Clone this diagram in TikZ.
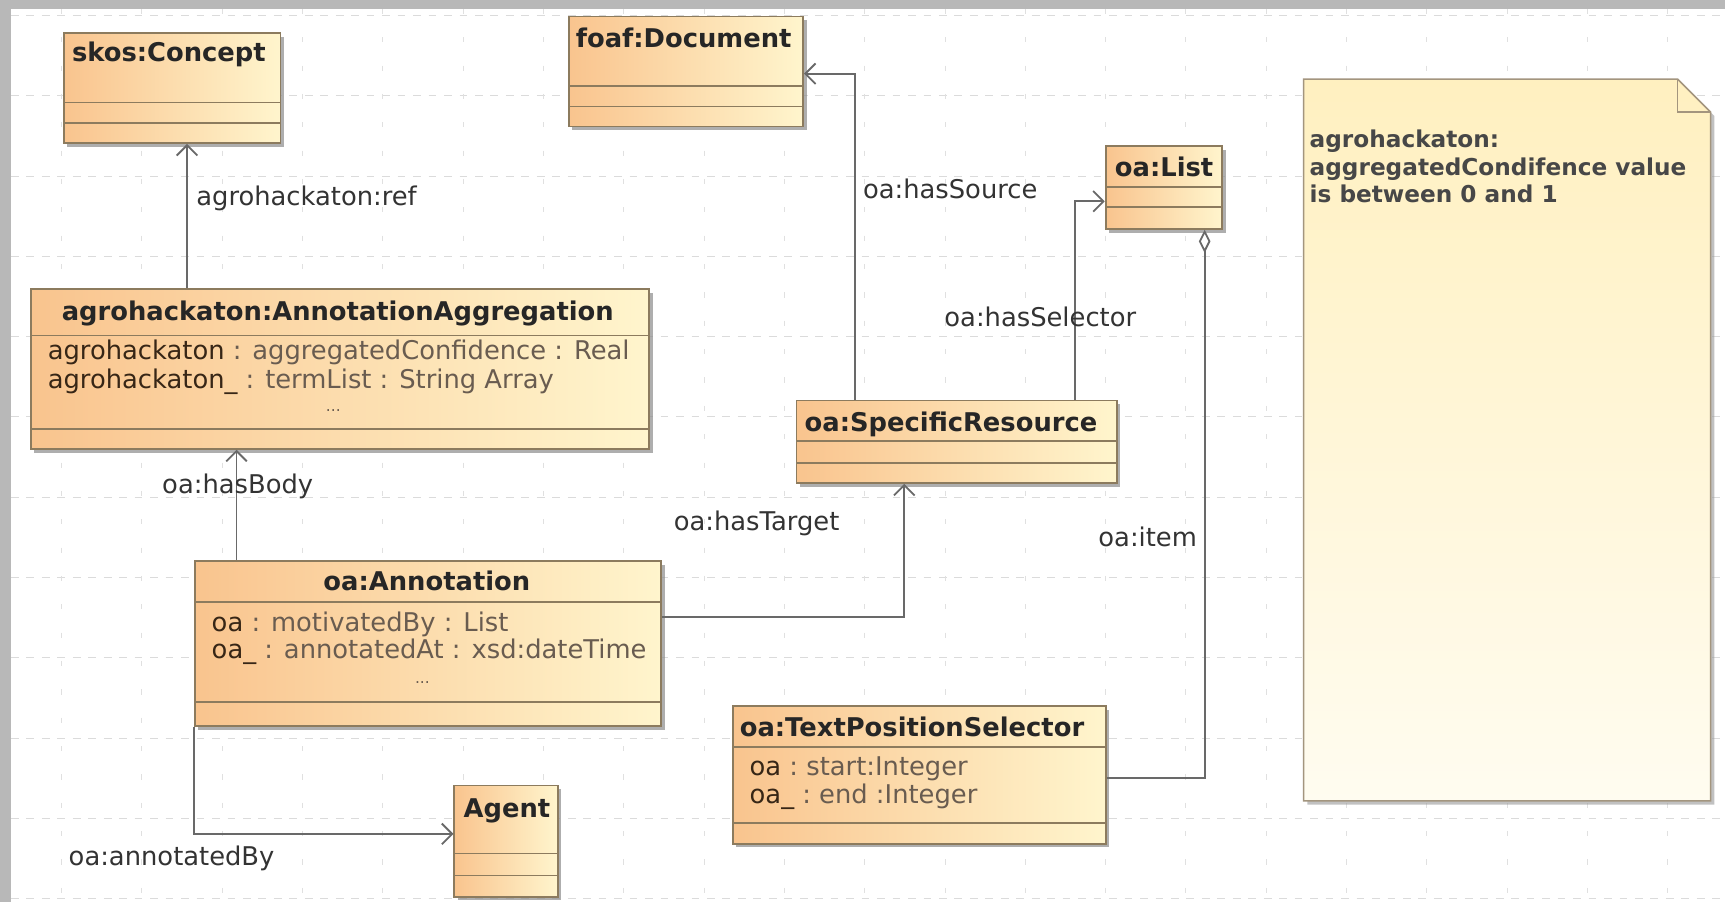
\documentclass[tikz,border=0pt]{standalone}
\usepackage{fontspec}
\setmainfont{DejaVu Sans}
\usetikzlibrary{arrows.meta,fit,shadows}
\definecolor{boxline}{RGB}{140,123,94}
\definecolor{boxleft}{RGB}{249,196,142}
\definecolor{boxright}{RGB}{255,245,205}
\definecolor{conn}{RGB}{105,105,105}
\definecolor{attrgrey}{RGB}{105,92,80}
\definecolor{attrdark}{RGB}{55,38,22}
\definecolor{notetop}{RGB}{255,240,192}
\definecolor{notebot}{RGB}{255,252,240}
\tikzset{
	umlclass/.style={draw=boxline,line width=0.7pt,left color=boxleft,right color=boxright,inner sep=0pt,
		drop shadow={shadow xshift=0.05cm,shadow yshift=-0.05cm,fill=black!45,opacity=0.7}},
	compart/.style={draw=boxline,line width=0.6pt},
	classname/.style={font=\fontsize{10}{12}\selectfont\bfseries,text=black!85,inner sep=0pt,anchor=base west},
	attr/.style={font=\fontsize{10}{12}\selectfont,text=attrgrey,inner sep=0pt,anchor=base west},
	more/.style={font=\fontsize{6}{7}\selectfont,text=attrgrey,inner sep=0pt,anchor=base},
	role/.style={font=\fontsize{10}{12}\selectfont,text=black!80,inner sep=0pt,anchor=base west},
	assoc/.style={draw=conn,line width=0.7pt,-{Straight Barb[length=4pt,width=8pt]}},
	aggr/.style={draw=conn,line width=0.7pt,{Diamond[open,fill=white,length=9pt,width=4.5pt]}-},
}
\begin{document}
\begin{tikzpicture}[x=0.015cm,y=-0.015cm]
	\useasboundingbox (0,0) rectangle (1568,820);
	\fill[black!28] (0,0) rectangle (1568,820);
	\fill[white] (10,8) rectangle (1568,820);
	\foreach \gy in {14,87,...,820} \draw[black!14,dash pattern=on 3pt off 3pt] (10,\gy) -- (1568,\gy);
	\foreach \gx in {56,129,...,1568} \draw[black!12,dash pattern=on 2pt off 9pt] (\gx,8) -- (\gx,820);
	% classes
	\node[umlclass,fit={(58,30) (255,130)}] (skos) {};
	\draw[compart] (58,93) -- (255,93) (58,112) -- (255,112);
	\node[classname] (skosname) at (65,56) {skos:Concept};
	\node[umlclass,fit={(517,15) (730,115)}] (foaf) {};
	\draw[compart] (517,78) -- (730,78) (517,97) -- (730,97);
	\node[classname] (foafname) at (523,43) {foaf:Document};
	\node[umlclass,fit={(1005,133) (1111,208)}] (list) {};
	\draw[compart] (1005,170) -- (1111,170) (1005,188) -- (1111,188);
	\node[classname] (listname) at (1013,160) {oa:List};
	\node[umlclass,fit={(28,263) (590,408)}] (annagg) {};
	\draw[compart] (28,305) -- (590,305) (28,390) -- (590,390);
	\node[classname,anchor=base] (annaggname) at (307,291) {agrohackaton:AnnotationAggregation};
	\node[attr] (annagg1) at (43,327) {\textcolor{attrdark}{agrohackaton} : aggregatedConfidence : Real};
	\node[attr] (annagg2) at (43,353) {\textcolor{attrdark}{agrohackaton\_} : termList : String Array};
	\node[more] (annagg3) at (303,374) {...};
	\node[umlclass,fit={(724,364) (1015,439)}] (specres) {};
	\draw[compart] (724,401) -- (1015,401) (724,421) -- (1015,421);
	\node[classname] (specresname) at (731,392) {oa:SpecificResource};
	\node[umlclass,fit={(177,510) (601,660)}] (annot) {};
	\draw[compart] (177,547) -- (601,547) (177,638) -- (601,638);
	\node[classname,anchor=base] (annotname) at (388,537) {oa:Annotation};
	\node[attr] (annot1) at (192,574) {\textcolor{attrdark}{oa} : motivatedBy : List};
	\node[attr] (annot2) at (192,599) {\textcolor{attrdark}{oa\_} : annotatedAt : xsd:dateTime};
	\node[more] (annot3) at (384,621) {...};
	\node[umlclass,fit={(413,714) (507,815)}] (agent) {};
	\draw[compart] (413,776) -- (507,776) (413,796) -- (507,796);
	\node[classname] (agentname) at (421,743) {Agent};
	\node[umlclass,fit={(666,642) (1005,767)}] (tps) {};
	\draw[compart] (666,679) -- (1005,679) (666,748) -- (1005,748);
	\node[classname] (tpsname) at (672,669) {oa:TextPositionSelector};
	\node[attr] (tps1) at (681,705) {\textcolor{attrdark}{oa} :\ start:Integer};
	\node[attr] (tps2) at (681,730) {\textcolor{attrdark}{oa\_} :\ end :Integer};
	% note
	\draw[boxline!80,line width=0.6pt,top color=notetop,bottom color=notebot,drop shadow={shadow xshift=0.05cm,shadow yshift=-0.05cm,fill=black!40,opacity=0.6}]
		(1185,72) -- (1525,72) -- (1555,102) -- (1555,728) -- (1185,728) -- cycle;
	\draw[boxline!80,line width=0.6pt] (1525,72) -- (1525,102) -- (1555,102);
	\node[font=\fontsize{9}{10.6}\selectfont\bfseries,text=black!72,inner sep=0pt,anchor=north west,align=left] (notetext) at (1190,118)
		{agrohackaton:\\aggregatedCondifence value\\is between 0 and 1};
	% connectors
	\coordinate (refx) at (170,0);
	\coordinate (bodyx) at (215,0);
	\coordinate (tgtx) at (822,0);
	\coordinate (tgty) at (0,561);
	\coordinate (byy) at (0,758);
	\coordinate (srcx) at (777,0);
	\coordinate (srcy) at (0,67);
	\coordinate (selx) at (977,0);
	\coordinate (sely) at (0,183);
	\coordinate (itemx) at (1095,0);
	\coordinate (itemy) at (0,707);
	\draw[assoc] (annagg.north -| refx) -- (skos.south -| refx);
	\draw[assoc] (annot.north -| bodyx) -- (annagg.south -| bodyx);
	\draw[assoc] (annot.east |- tgty) -| (specres.south -| tgtx);
	\draw[assoc] (annot.south west) |- (agent.west |- byy);
	\draw[assoc] (specres.north -| srcx) |- (foaf.east |- srcy);
	\draw[assoc] (specres.north -| selx) |- (list.west |- sely);
	\draw[aggr] (list.south -| itemx) |- (tps.east |- itemy);
	\node[role] (refl) at (178,187) {agrohackaton:ref};
	\node[role] (bodyl) at (147,449) {oa:hasBody};
	\node[role] (tgtl) at (612,482) {oa:hasTarget};
	\node[role] (byl) at (62,787) {oa:annotatedBy};
	\node[role] (srcl) at (784,180) {oa:hasSource};
	\node[role] (sell) at (858,297) {oa:hasSelector};
	\node[role] (iteml) at (998,497) {oa:item};
\end{tikzpicture}
\end{document}
